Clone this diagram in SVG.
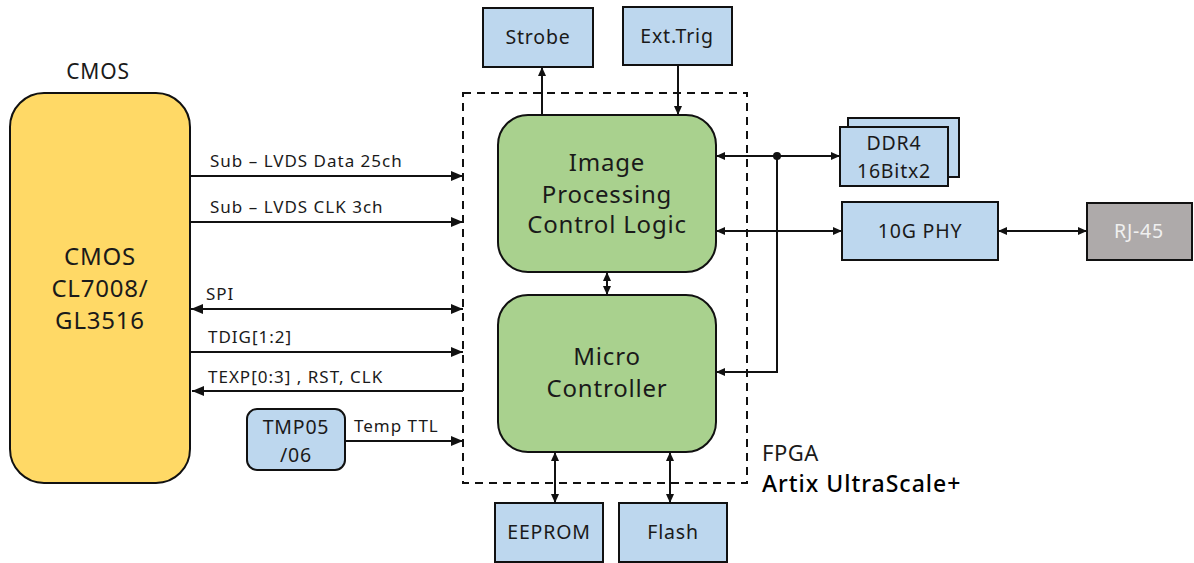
<svg xmlns="http://www.w3.org/2000/svg" width="1194" height="563" viewBox="0 0 1194 563">
<style>
text{font-family:"Noto Sans","Open Sans",sans-serif;fill:#1a1a1a}
.n{stroke:#111;stroke-width:2}
.y{fill:#FFD966}.b{fill:#BDD7EE}.g{fill:#A9D18E}.gr{fill:#AEAAAA}
.c{fill:none;stroke:#111;stroke-width:2}
.lbl{font-size:17px;letter-spacing:1px}
.big{font-size:24px;letter-spacing:0.8px;text-anchor:middle}
.mid{font-size:19.5px;letter-spacing:0.8px;text-anchor:middle}
</style>
<defs>
<marker id="a" viewBox="0 0 12 10" refX="12" refY="5" markerWidth="12" markerHeight="10" markerUnits="userSpaceOnUse" orient="auto-start-reverse"><path d="M0,0L12,5L0,10z" fill="#111"/></marker>
<marker id="s" viewBox="0 0 9 8" refX="9" refY="4" markerWidth="9" markerHeight="8" markerUnits="userSpaceOnUse" orient="auto-start-reverse"><path d="M0,0L9,4L0,8z" fill="#111"/></marker>
</defs>
<g id="fpga">
<rect x="463" y="93" width="284" height="390" fill="none" stroke="#111" stroke-width="2" stroke-dasharray="8,6"/>
<text x="762" y="461" style="font-size:22px;letter-spacing:0.5px">FPGA</text>
<text x="762" y="492" style="font-size:23px;font-weight:500;letter-spacing:1px;fill:#000">Artix UltraScale+</text>
</g>
<g id="cmos">
<text x="98" y="79" class="mid" style="font-size:21px">CMOS</text>
<rect class="n y" x="10" y="93" width="180" height="390" rx="34"/>
<text x="100" y="265" class="big">CMOS</text>
<text x="100" y="297" class="big">CL7008/</text>
<text x="100" y="329" class="big">GL3516</text>
</g>
<g id="tmp">
<rect class="n b" x="247" y="409" width="98" height="61" rx="10"/>
<text x="296" y="434" class="mid">TMP05</text>
<text x="296" y="462" class="mid">/06</text>
</g>
<g id="imgproc">
<rect class="n g" x="498" y="115" width="218" height="157" rx="30"/>
<text x="607" y="171" class="big">Image</text>
<text x="607" y="203" class="big">Processing</text>
<text x="607" y="233" class="big">Control Logic</text>
</g>
<g id="micro">
<rect class="n g" x="498" y="295" width="218" height="157" rx="30"/>
<text x="607" y="365" class="big">Micro</text>
<text x="607" y="397" class="big">Controller</text>
</g>
<g id="strobe">
<rect class="n b" x="483" y="8" width="110" height="59"/>
<text x="538" y="44" class="mid">Strobe</text>
</g>
<g id="exttrig">
<rect class="n b" x="623" y="7" width="109" height="58"/>
<text x="677" y="43" class="mid">Ext.Trig</text>
</g>
<g id="ddr4">
<rect class="n b" x="848" y="118" width="111" height="59"/>
<rect class="n b" x="840" y="127" width="108" height="59"/>
<text x="894" y="150" class="mid">DDR4</text>
<text x="894" y="178" class="mid">16Bitx2</text>
</g>
<g id="phy">
<rect class="n b" x="842" y="202" width="156" height="58"/>
<text x="920" y="238" class="mid">10G PHY</text>
</g>
<g id="rj45">
<rect class="n gr" x="1087" y="203" width="105" height="57"/>
<text x="1139" y="238" class="mid" style="fill:#f0f0f0">RJ-45</text>
</g>
<g id="eeprom">
<rect class="n b" x="495" y="503" width="108" height="59"/>
<text x="549" y="539" class="mid">EEPROM</text>
</g>
<g id="flash">
<rect class="n b" x="619" y="503" width="108" height="59"/>
<text x="673" y="539" class="mid">Flash</text>
</g>
<g id="connectors">
<line class="c" x1="190" y1="176" x2="463" y2="176" marker-end="url(#a)"/>
<text x="210" y="167" class="lbl">Sub – LVDS Data 25ch</text>
<line class="c" x1="190" y1="222" x2="463" y2="222" marker-end="url(#a)"/>
<text x="210" y="213" class="lbl">Sub – LVDS CLK 3ch</text>
<line class="c" x1="191" y1="309" x2="463" y2="309" marker-start="url(#a)" marker-end="url(#a)"/>
<text x="206" y="300" class="lbl">SPI</text>
<line class="c" x1="190" y1="352" x2="463" y2="352" marker-end="url(#a)"/>
<text x="208" y="343" class="lbl">TDIG[1:2]</text>
<line class="c" x1="463" y1="391" x2="192" y2="391" marker-end="url(#a)"/>
<text x="208" y="383" class="lbl">TEXP[0:3] , RST, CLK</text>
<line class="c" x1="345" y1="441" x2="463" y2="441" marker-end="url(#a)"/>
<text x="354" y="432" class="lbl">Temp TTL</text>
<line class="c" x1="542" y1="115" x2="542" y2="67" marker-end="url(#s)"/>
<line class="c" x1="678" y1="66" x2="678" y2="115" marker-end="url(#s)"/>
<line class="c" x1="607" y1="272" x2="607" y2="295" marker-start="url(#s)" marker-end="url(#s)"/>
<line class="c" x1="716" y1="156" x2="840" y2="156" marker-start="url(#s)" marker-end="url(#s)"/>
<circle cx="777" cy="156" r="4" fill="#111"/>
<polyline class="c" points="777,156 777,372 716,372" marker-end="url(#s)"/>
<line class="c" x1="716" y1="231" x2="842" y2="231" marker-start="url(#s)" marker-end="url(#s)"/>
<line class="c" x1="998" y1="231" x2="1087" y2="231" marker-start="url(#s)" marker-end="url(#s)"/>
<line class="c" x1="555" y1="452" x2="555" y2="503" marker-start="url(#s)" marker-end="url(#s)"/>
<line class="c" x1="670" y1="452" x2="670" y2="503" marker-start="url(#s)" marker-end="url(#s)"/>
</g>
</svg>
